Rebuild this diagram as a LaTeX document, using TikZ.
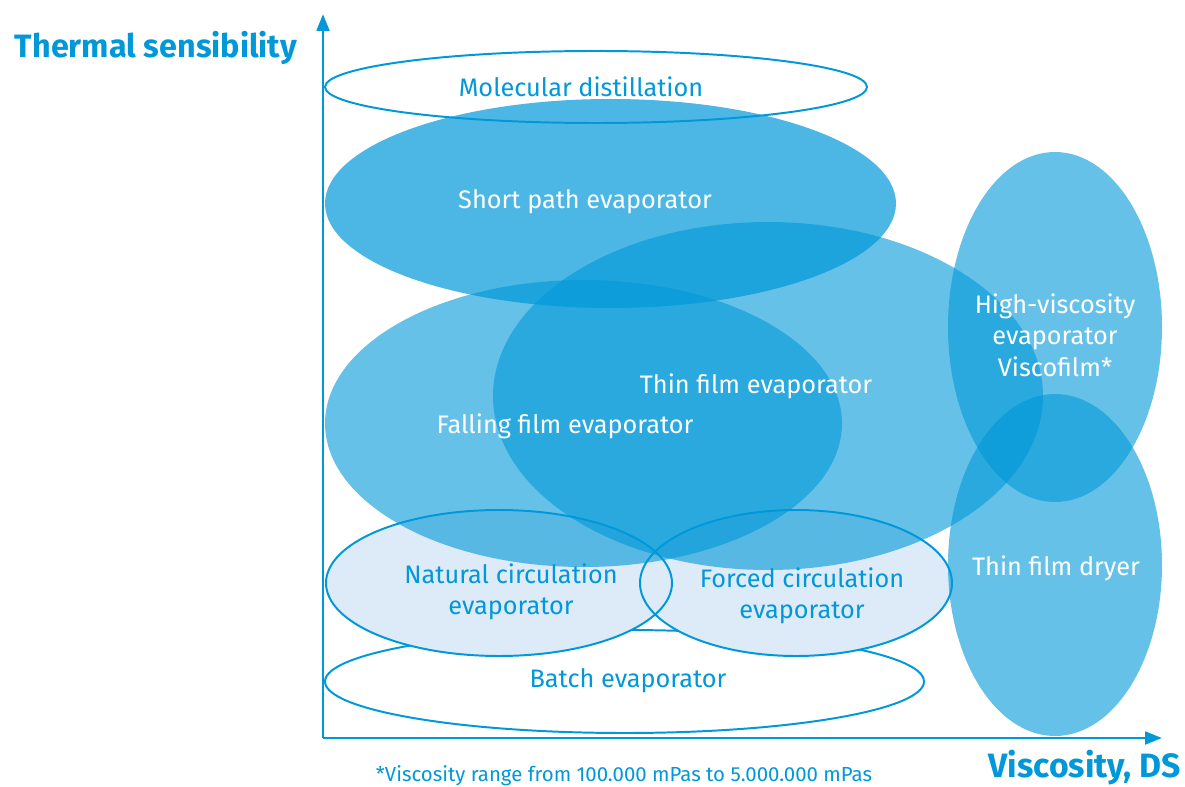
\documentclass[tikz,border=0pt]{standalone}
\usepackage{fontspec}
\setmainfont{Fira Sans}
\usetikzlibrary{arrows.meta}
\definecolor{chartblue}{RGB}{0,152,216}
\definecolor{paleblue}{RGB}{221,234,247}

\begin{document}
\begin{tikzpicture}[x=0.025cm,y=-0.025cm]
    \tikzstyle{blob}=[fill=chartblue,fill opacity=0.6]
    \tikzstyle{ring}=[draw=chartblue,line width=1.4pt]
    \tikzstyle{inlabel}=[text=white,font=\fontsize{18}{22.5}\selectfont,align=center]
    \tikzstyle{outlabel}=[text=chartblue,font=\fontsize{18}{22.5}\selectfont,align=center]
    \tikzstyle{axislabel}=[text=chartblue,font=\bfseries\fontsize{23}{26}\selectfont]
    \tikzstyle{axis}=[draw=chartblue,line width=2pt,-{Triangle[length=12pt,width=9pt]}]

    \useasboundingbox (0,0) rectangle (1185,787);

    % outlined ellipses at the bottom
    \draw[ring] (624.5,681.5) ellipse [x radius=299.5, y radius=51.5];
    \fill[paleblue] (499,583) ellipse [x radius=173, y radius=73];
    \fill[paleblue] (796,583) ellipse [x radius=156, y radius=73];
    \draw[ring] (499,583) ellipse [x radius=173, y radius=73];
    \draw[ring] (796,583) ellipse [x radius=156, y radius=73];
    \draw[ring] (596,87) ellipse [x radius=271, y radius=36];

    % translucent ellipses
    \fill[blob,fill opacity=0.7] (610.5,203.5) ellipse [x radius=285.5, y radius=104.5];
    \fill[blob] (583.5,423.5) ellipse [x radius=258.5, y radius=143.5];
    \fill[blob] (768,396) ellipse [x radius=275, y radius=174];
    \fill[blob] (1055,327) ellipse [x radius=107, y radius=175];
    \fill[blob] (1055,565) ellipse [x radius=107, y radius=171];

    % axes
    \coordinate (origin) at (323,738);
    \coordinate (ytip) at (323,14);
    \coordinate (xtip) at (1162,738);
    \draw[axis] (origin) -- (ytip);
    \draw[axis] (origin) -- (xtip);

    \node (molecular)[outlabel] at (581,87) {Molecular distillation};
    \node (shortpath)[inlabel] at (585,202) {Short path evaporator};
    \node (thinfilm)[inlabel] at (756,386) {Thin film evaporator};
    \node (fallingfilm)[inlabel] at (565,426) {Falling film evaporator};
    \node (highvisc)[inlabel] at (1055,335) {High-viscosity\\evaporator\\Viscofilm*};
    \node (dryer)[inlabel] at (1056,568) {Thin film dryer};
    \node (natural)[outlabel] at (511,592) {Natural circulation\\evaporator};
    \node (forced)[outlabel] at (802,596) {Forced circulation\\evaporator};
    \node (batch)[outlabel] at (628,681) {Batch evaporator};

    \node (ylabel)[axislabel,anchor=west] at (10,48) {Thermal sensibility};
    \node (xlabel)[axislabel,anchor=east,font=\bfseries\fontsize{24}{26}\selectfont] at (1186,768) {Viscosity, DS};
    \node (note)[text=chartblue,font=\fontsize{14.5}{16}\selectfont] at (624,776) {*Viscosity range from 100.000 mPas to 5.000.000 mPas};
\end{tikzpicture}
\end{document}
